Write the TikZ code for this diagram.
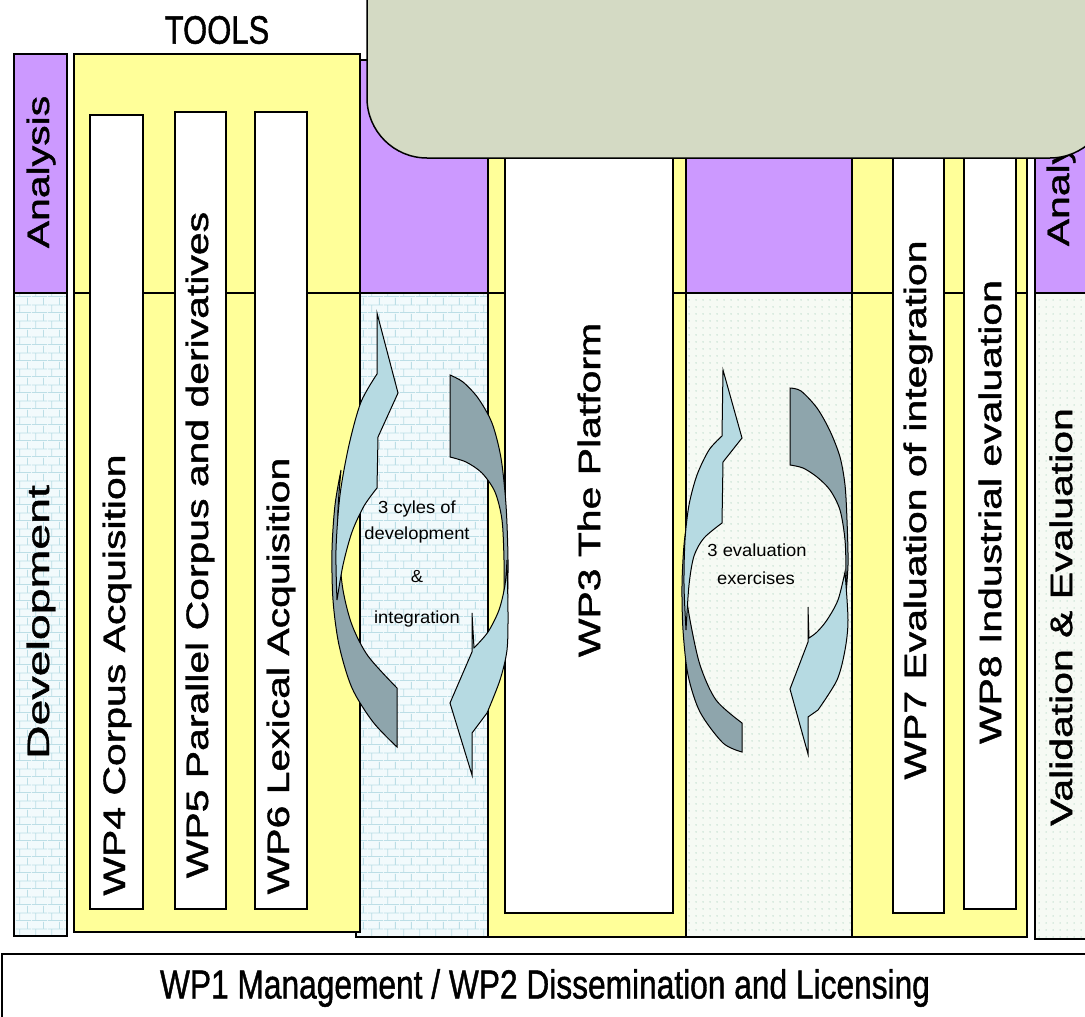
\documentclass[tikz,border=0pt]{standalone}
\usepackage{fontspec}
\setmainfont{Liberation Sans}
\newfontfamily\labelfont[FakeBold=1.2]{Liberation Sans}
\usetikzlibrary{patterns.meta}

\definecolor{phasepurple}{RGB}{204,153,255}
\definecolor{toolyellow}{RGB}{255,255,153}
\definecolor{notegreen}{RGB}{212,218,196}
\definecolor{brickbg}{RGB}{242,250,252}
\definecolor{brickline}{RGB}{188,222,230}
\definecolor{dotbg}{RGB}{246,250,244}
\definecolor{dotfg}{RGB}{190,220,204}
\definecolor{arrowlight}{RGB}{182,218,226}
\definecolor{arrowdark}{RGB}{142,165,172}

\tikzdeclarepattern{
  name=brickwall,
  type=uncolored,
  bounding box={(0pt,0pt) and (16pt,16pt)},
  tile size={(16pt,16pt)},
  code={
    \draw[line width=0.8pt] (0pt,0.4pt) -- (16pt,0.4pt) (0pt,8.4pt) -- (16pt,8.4pt)
      (4pt,0pt) -- (4pt,8pt) (12pt,8pt) -- (12pt,16pt);
  }
}
\tikzdeclarepattern{
  name=finedots,
  type=uncolored,
  bounding box={(0pt,0pt) and (7pt,7pt)},
  tile size={(7pt,7pt)},
  code={\fill (3.5pt,3.5pt) circle (0.9pt);}
}

\tikzset{
  outline/.style={draw=black, line width=1.2pt},
  analysisbox/.style={outline, fill=phasepurple},
  brickcol/.style={outline, preaction={fill=brickbg}, pattern=brickwall, pattern color=brickline},
  dotcol/.style={outline, preaction={fill=dotbg}, pattern=finedots, pattern color=dotfg},
  toolbox/.style={outline, fill=toolyellow},
  wpstrip/.style={outline, fill=white},
  vlabel/.style={rotate=90, xscale=1.32, font=\labelfont\fontsize{31}{31}\selectfont, inner sep=0pt},
  hlabel/.style={yscale=1.28, font=\labelfont\fontsize{31}{31}\selectfont, inner sep=0pt},
  cyclelabel/.style={xscale=1.05, font=\fontsize{17.5}{17.5}\selectfont, inner sep=0pt},
  cyclefront/.style={draw=black, line width=1pt, fill=arrowlight},
  cycleback/.style={draw=black, line width=1pt, fill=arrowdark}
}

\begin{document}
\begin{tikzpicture}[x=1pt, y=-1pt]
\useasboundingbox (0,0) rectangle (1085,1017);
\clip (0,0) rectangle (1085,1017);
\fill[white] (0,0) rectangle (1085,1017);

% phase columns
\draw[analysisbox] (14,54) rectangle (67,293);
\draw[brickcol] (14,293) rectangle (67,936);
\draw[analysisbox] (356,60) rectangle (488,293);
\draw[brickcol] (356,293) rectangle (488,937);
\draw[analysisbox] (686,60) rectangle (852,293);
\draw[dotcol] (686,293) rectangle (852,937);
\draw[analysisbox] (1035,60) rectangle (1095,293);
\draw[dotcol] (1035,293) rectangle (1095,939);

% work packages
\draw[toolbox] (74,54) rectangle (360,932);
\draw[line width=1.2pt] (74,293) -- (360,293);
\draw[wpstrip] (90,115) rectangle (143,909);
\draw[wpstrip] (175,112) rectangle (226,909);
\draw[wpstrip] (255,112) rectangle (307,909);

\draw[toolbox] (488,54) rectangle (686,937);
\draw[line width=1.2pt] (488,293) -- (686,293);
\draw[wpstrip] (505,112) rectangle (673,913);

\draw[toolbox] (852,54) rectangle (1027,937);
\draw[line width=1.2pt] (852,293) -- (1027,293);
\draw[wpstrip] (893,112) rectangle (944,913);
\draw[wpstrip] (964,112) rectangle (1016,909);

\node[vlabel] (ana1) at (41,172) {Analysis};
\node[vlabel, xscale=1.5/1.32] (dev) at (41,622) {Development};
\node[vlabel] (wp4) at (117,675) {WP4 Corpus Acquisition};
\node[vlabel] (wp5) at (200,545) {WP5 Parallel Corpus and derivatives};
\node[vlabel] (wp6) at (281,676) {WP6 Lexical Acquisition};
\node[vlabel] (wp3) at (589,490) {WP3 The Platform};
\node[vlabel] (wp7) at (918,510) {WP7 Evaluation of integration};
\node[vlabel] (wp8) at (990,512) {WP8 Industrial evaluation};
\node[vlabel] (val) at (1061,617) {Validation \& Evaluation};
\node[vlabel] (ana2) at (1061,170) {Analysis};

% development cycle
\draw[cycleback] (397,688) -- (397,747)
  -- plot[smooth] coordinates {(397,747) (373,722) (352,688) (339,645) (333,600) (332,550) (335,505) (341,470)}
  -- plot[smooth] coordinates {(341,470) (338,510) (339,550) (343,590) (352,625) (368,656) (397,688)} -- cycle;
\draw[cyclefront] (377,313) -- (398,393) -- (378,437) -- (377,488)
  -- plot[smooth] coordinates {(377,488) (364,506) (352,532) (343,565) (337,600)}
  -- plot[smooth] coordinates {(337,600) (336,550) (340,495) (349,445) (361,402) (377,374)} -- cycle;
\draw[cycleback] (450,375) -- (450,457)
  -- plot[smooth] coordinates {(450,457) (466,462) (482,473) (495,492) (502,520) (504,560) (504,600) (503,648)}
  -- plot[smooth] coordinates {(503,648) (507,610) (508,560) (506,505) (501,458) (492,423) (478,398) (463,382) (450,375)} -- cycle;
\draw[cyclefront] (472,775) -- (450,703) -- (472,652) -- (472,613) -- (474,648)
  -- plot[smooth] coordinates {(474,648) (488,632) (499,610) (505,585) (507,560)}
  -- plot[smooth] coordinates {(507,560) (508,613) (507,650) (500,680) (487,713)}
  -- (472,733) -- cycle;

% evaluation cycle
\draw[cycleback] (742,723) -- (742,752)
  -- plot[smooth] coordinates {(742,752) (723,743) (700,712) (688,675) (683,630) (682,585) (684,545) (688,515)}
  -- plot[smooth] coordinates {(688,515) (686,550) (686,590) (690,620) (700,665) (716,700) (742,723)} -- cycle;
\draw[cyclefront] (723,370) -- (742,438) -- (723,462) -- (722,523)
  -- plot[smooth] coordinates {(722,523) (704,538) (694,556) (689,585) (686,630)}
  -- plot[smooth] coordinates {(686,630) (684,585) (685,540) (689,505) (697,475) (709,450) (722,436)} -- cycle;
\draw[cycleback] (790,388) -- (790,465)
  -- plot[smooth] coordinates {(790,465) (803,468) (817,477) (830,490) (840,510) (845,540) (846,575) (845,605)}
  -- plot[smooth] coordinates {(845,605) (848,565) (847,520) (845,485) (840,457) (830,431) (817,408) (801,391) (790,388)} -- cycle;
\draw[cyclefront] (808,754) -- (790,689) -- (808,642) -- (808,607) -- (809,638)
  -- plot[smooth] coordinates {(809,638) (817,632) (827,620) (838,600) (845,572)}
  -- plot[smooth] coordinates {(845,572) (848,620) (845,650) (837,680) (818,710)}
  -- (808,717) -- cycle;

\node[cyclelabel] (dc1) at (417,509) {3 cyles of};
\node[cyclelabel] (dc2) at (417,535) {development};
\node[cyclelabel] (dc3) at (417,577) {\&};
\node[cyclelabel] (dc4) at (417,619) {integration};
\node[cyclelabel] (ev1) at (757,550) {3 evaluation};
\node[cyclelabel] (ev2) at (756,578) {exercises};

% callout
\draw[fill=notegreen, line width=1.5pt, rounded corners=60pt] (367,-80) rectangle (1110,158);

\node[hlabel] (tools) at (217,30) {TOOLS};
\draw[line width=1.6pt, fill=white] (2,954) rectangle (1095,1030);
\node[hlabel, font=\labelfont\fontsize{31.7}{31.7}\selectfont] (mgmt) at (545,988) {WP1 Management / WP2 Dissemination and Licensing};
\end{tikzpicture}
\end{document}
